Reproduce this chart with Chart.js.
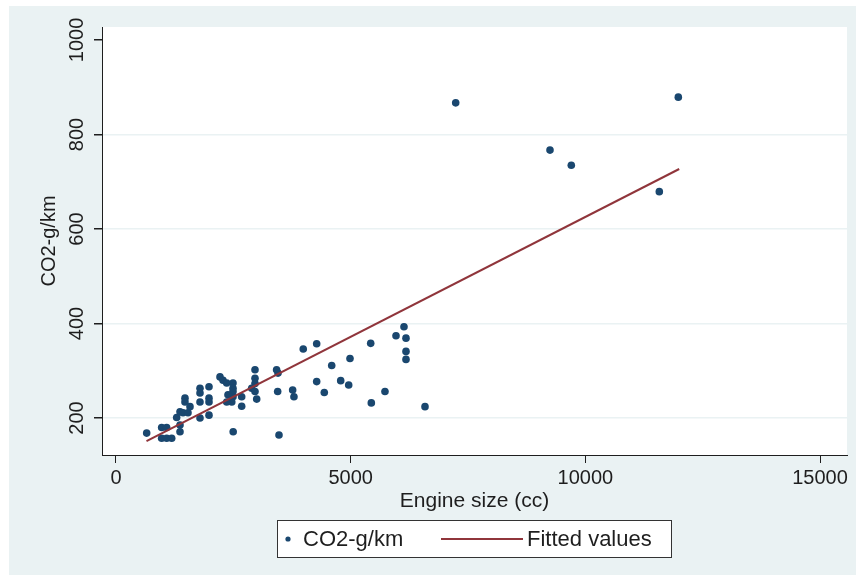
<!DOCTYPE html>
<html>
<head>
<meta charset="utf-8">
<script src="https://cdn.jsdelivr.net/npm/chart.js@4"></script>
<style>
  html, body { margin: 0; padding: 0; background: #fff; }
</style>
</head>
<body>
<canvas id="co2Chart" width="856" height="581"></canvas>
<script>
// engine size (cc) and emissions (g/km), one pair per car
const engineSize = [
  654, 973, 1080, 973, 1080, 1187, 1293, 1364, 1364, 1364,
  1428, 1534, 1470, 1470, 1577, 1790, 1790, 1790, 1790, 1982,
  1982, 1982, 1982, 2216, 2280, 2359, 2493, 2493, 2386, 2493,
  2467, 2359, 2493, 2678, 2678, 2497, 2962, 2962, 2962, 2891,
  2962, 2998, 3422, 3452, 3445, 3473, 3990, 4276, 3764, 3792,
  4276, 4438, 4596, 4788, 4958, 4986, 5427, 5731, 5440, 5966,
  6136, 6179, 6179, 6179, 6584, 7238, 9247, 9701, 11576, 11981
];
const co2 = [
  168, 180, 180, 157, 157, 157, 201, 185, 171, 213,
  211, 211, 242, 234, 224, 263, 253, 234, 200, 266,
  242, 234, 206, 287, 280, 274, 274, 256, 249, 245,
  234, 234, 263, 245, 225, 171, 302, 284, 273, 263,
  256, 240, 302, 295, 256, 164, 346, 357, 259, 245,
  277, 254, 311, 279, 270, 326, 358, 256, 232, 374,
  393, 369, 341, 324, 224, 867, 767, 735, 679, 879
];

// linear fit end points
const fitX = [650, 12000];
const fitY = [151, 727];

const xTicks = [0, 5000, 10000, 15000];
const yTicks = [200, 400, 600, 800, 1000];

const NAVY = '#1a476f';
const MAROON = '#90353b';
const PANEL = '#eaf2f3';
const INK = '#1e1e1e';
const FONT = "'Liberation Sans', Arial, sans-serif";

const points = engineSize.map((x, i) => ({ x, y: co2[i] }));
const fitted = fitX.map((x, i) => ({ x, y: fitY[i] }));

// light panel behind everything, white plot region
const backdrop = {
  id: 'backdrop',
  beforeDraw(chart) {
    const { ctx, chartArea: a } = chart;
    ctx.save();
    ctx.fillStyle = '#fff';
    ctx.fillRect(0, 0, chart.width, chart.height);
    ctx.fillStyle = PANEL;
    ctx.fillRect(9, 6, chart.width - 9, 569);
    ctx.fillStyle = '#fff';
    ctx.fillRect(a.left, a.top, a.right - a.left, a.bottom - a.top);
    ctx.restore();
  }
};

// boxed legend under the axis title
const legendBox = {
  id: 'legendBox',
  afterDraw(chart) {
    const ctx = chart.ctx;
    const y = 539;
    ctx.save();
    ctx.fillStyle = '#fff';
    ctx.fillRect(277, 520, 394, 37);
    ctx.strokeStyle = '#333';
    ctx.lineWidth = 1;
    ctx.strokeRect(277.5, 520.5, 394, 37);

    ctx.fillStyle = NAVY;
    ctx.beginPath();
    ctx.arc(288, y, 2.6, 0, Math.PI * 2);
    ctx.fill();

    ctx.strokeStyle = MAROON;
    ctx.lineWidth = 2;
    ctx.beginPath();
    ctx.moveTo(441, y);
    ctx.lineTo(523, y);
    ctx.stroke();

    ctx.fillStyle = INK;
    ctx.font = '22px ' + FONT;
    ctx.textBaseline = 'middle';
    ctx.textAlign = 'left';
    ctx.fillText(chart.data.datasets[0].label, 303, y + 1);
    ctx.fillText(chart.data.datasets[1].label, 527, y + 1);
    ctx.restore();
  }
};

new Chart(document.getElementById('co2Chart'), {
  type: 'scatter',
  data: {
    datasets: [
      {
        label: 'CO2-g/km',
        data: points,
        backgroundColor: NAVY,
        borderWidth: 0,
        pointRadius: 3.8,
        order: 1
      },
      {
        label: 'Fitted values',
        data: fitted,
        showLine: true,
        borderColor: MAROON,
        borderWidth: 2,
        pointRadius: 0,
        order: 0
      }
    ]
  },
  options: {
    responsive: false,
    animation: false,
    events: [],
    layout: { padding: { top: 27, right: 9, bottom: 0, left: 0 } },
    plugins: {
      legend: { display: false },
      tooltip: { enabled: false }
    },
    scales: {
      x: {
        type: 'linear',
        min: -298,
        max: 15575,
        afterBuildTicks: s => { s.ticks = xTicks.map(v => ({ value: v })); },
        afterFit: s => { s.height = 126; },
        border: { display: true, color: INK, width: 1 },
        grid: { drawOnChartArea: false, drawTicks: true, tickLength: 8, tickColor: INK },
        ticks: {
          autoSkip: false,
          maxRotation: 0,
          padding: 3.5,
          color: INK,
          font: { family: FONT, size: 20 },
          callback: v => String(v)
        },
        title: {
          display: true,
          text: 'Engine size (cc)',
          color: INK,
          font: { family: FONT, size: 21 },
          padding: { top: 0, bottom: 67 }
        }
      },
      y: {
        type: 'linear',
        min: 121.7,
        max: 1027.5,
        afterBuildTicks: s => { s.ticks = yTicks.map(v => ({ value: v })); },
        afterFit: s => { s.width = 102; },
        border: { display: true, color: INK, width: 1 },
        grid: {
          drawTicks: true,
          tickLength: 8,
          tickColor: INK,
          lineWidth: 1.5,
          color: c => (c.tick && c.tick.value === 1000) ? 'rgba(0,0,0,0)' : PANEL
        },
        ticks: {
          autoSkip: false,
          minRotation: 90,
          maxRotation: 90,
          crossAlign: 'center',
          padding: -5.7,
          color: INK,
          font: { family: FONT, size: 20 },
          callback: v => String(v)
        },
        title: {
          display: true,
          text: 'CO2-g/km',
          color: INK,
          font: { family: FONT, size: 20 },
          padding: { top: 37.5, bottom: 0 }
        }
      }
    }
  },
  plugins: [backdrop, legendBox]
});
</script>
</body>
</html>
